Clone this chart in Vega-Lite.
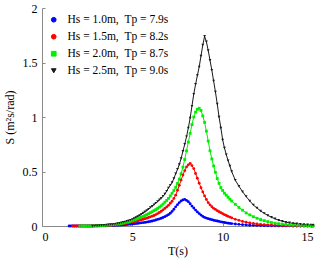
{
  "$schema": "https://vega.github.io/schema/vega-lite/v6.json",
  "width": 271,
  "height": 218,
  "autosize": {"type": "none"},
  "padding": {"left": 42, "top": 8, "right": 7, "bottom": 34},
  "background": "white",
  "config": {
    "view": {"stroke": null},
    "font": "Liberation Serif",
    "axis": {
      "grid": false,
      "domainColor": "#8a8a8a",
      "tickColor": "#8a8a8a",
      "tickSize": -3,
      "labelColor": "#000",
      "titleColor": "#000",
      "labelFont": "Liberation Serif",
      "titleFont": "Liberation Serif",
      "labelFontSize": 12,
      "titleFontSize": 12,
      "titleFontWeight": "normal"
    }
  },
  "data": {
    "values": [
      {"T": 1.5, "a": 0},
      {"T": 1.6, "a": 0},
      {"T": 1.7, "a": 0, "b": 0},
      {"T": 1.8, "a": 0, "b": 0},
      {"T": 1.9, "a": 0, "b": 0},
      {"T": 2.0, "a": 0, "b": 0},
      {"T": 2.1, "a": 0, "b": 0, "c": 0},
      {"T": 2.2, "a": 0, "b": 0, "c": 0},
      {"T": 2.3, "a": 0, "b": 0, "c": 0},
      {"T": 2.4, "a": 0, "b": 0, "c": 0},
      {"T": 2.5, "a": 0, "b": 0, "c": 0},
      {"T": 2.6, "a": 0, "b": 0, "c": 0},
      {"T": 2.7, "a": 0, "b": 0, "c": 0},
      {"T": 2.8, "a": 0, "b": 0, "c": 0, "d": 0},
      {"T": 2.9, "a": 0.001, "b": 0.001, "c": 0.001, "d": 0.001},
      {"T": 3.0, "a": 0.001, "b": 0.002, "c": 0.002, "d": 0.003},
      {"T": 3.1, "a": 0.001, "b": 0.002, "c": 0.002, "d": 0.003},
      {"T": 3.2, "a": 0.001, "b": 0.003, "c": 0.003, "d": 0.004},
      {"T": 3.3, "a": 0.002, "b": 0.003, "c": 0.004, "d": 0.005},
      {"T": 3.4, "a": 0.002, "b": 0.004, "c": 0.005, "d": 0.006},
      {"T": 3.5, "a": 0.002, "b": 0.004, "c": 0.006, "d": 0.007},
      {"T": 3.6, "a": 0.003, "b": 0.005, "c": 0.007, "d": 0.009},
      {"T": 3.7, "a": 0.003, "b": 0.006, "c": 0.008, "d": 0.011},
      {"T": 3.8, "a": 0.004, "b": 0.007, "c": 0.009, "d": 0.013},
      {"T": 3.9, "a": 0.004, "b": 0.008, "c": 0.011, "d": 0.014},
      {"T": 4.0, "a": 0.005, "b": 0.010, "c": 0.013, "d": 0.016},
      {"T": 4.1, "a": 0.006, "b": 0.011, "c": 0.015, "d": 0.019},
      {"T": 4.2, "a": 0.007, "b": 0.013, "c": 0.017, "d": 0.023},
      {"T": 4.3, "a": 0.008, "b": 0.014, "c": 0.019, "d": 0.026},
      {"T": 4.4, "a": 0.009, "b": 0.016, "c": 0.022, "d": 0.030},
      {"T": 4.5, "a": 0.010, "b": 0.018, "c": 0.025, "d": 0.034},
      {"T": 4.6, "a": 0.011, "b": 0.021, "c": 0.029, "d": 0.038},
      {"T": 4.7, "a": 0.013, "b": 0.024, "c": 0.032, "d": 0.043},
      {"T": 4.8, "a": 0.015, "b": 0.028, "c": 0.036, "d": 0.048},
      {"T": 4.9, "a": 0.016, "b": 0.031, "c": 0.041, "d": 0.054},
      {"T": 5.0, "a": 0.018, "b": 0.035, "c": 0.047, "d": 0.061},
      {"T": 5.1, "a": 0.020, "b": 0.039, "c": 0.052, "d": 0.069},
      {"T": 5.2, "a": 0.022, "b": 0.043, "c": 0.058, "d": 0.078},
      {"T": 5.3, "a": 0.024, "b": 0.047, "c": 0.065, "d": 0.087},
      {"T": 5.4, "a": 0.027, "b": 0.052, "c": 0.073, "d": 0.096},
      {"T": 5.5, "a": 0.029, "b": 0.057, "c": 0.080, "d": 0.107},
      {"T": 5.6, "a": 0.031, "b": 0.062, "c": 0.088, "d": 0.119},
      {"T": 5.7, "a": 0.033, "b": 0.067, "c": 0.096, "d": 0.130},
      {"T": 5.8, "a": 0.036, "b": 0.072, "c": 0.105, "d": 0.142},
      {"T": 5.9, "a": 0.039, "b": 0.078, "c": 0.113, "d": 0.155},
      {"T": 6.0, "a": 0.042, "b": 0.084, "c": 0.122, "d": 0.169},
      {"T": 6.1, "a": 0.046, "b": 0.090, "c": 0.131, "d": 0.182},
      {"T": 6.2, "a": 0.050, "b": 0.096, "c": 0.141, "d": 0.196},
      {"T": 6.3, "a": 0.055, "b": 0.105, "c": 0.151, "d": 0.210},
      {"T": 6.4, "a": 0.060, "b": 0.114, "c": 0.161, "d": 0.225},
      {"T": 6.5, "a": 0.065, "b": 0.124, "c": 0.173, "d": 0.240},
      {"T": 6.6, "a": 0.071, "b": 0.135, "c": 0.185, "d": 0.255},
      {"T": 6.7, "a": 0.078, "b": 0.148, "c": 0.201, "d": 0.274},
      {"T": 6.8, "a": 0.086, "b": 0.161, "c": 0.218, "d": 0.293},
      {"T": 6.9, "a": 0.095, "b": 0.175, "c": 0.235, "d": 0.320},
      {"T": 7.0, "a": 0.104, "b": 0.190, "c": 0.253, "d": 0.350},
      {"T": 7.1, "a": 0.117, "b": 0.209, "c": 0.276, "d": 0.375},
      {"T": 7.2, "a": 0.134, "b": 0.227, "c": 0.300, "d": 0.400},
      {"T": 7.3, "a": 0.154, "b": 0.253, "c": 0.325, "d": 0.435},
      {"T": 7.4, "a": 0.176, "b": 0.283, "c": 0.355, "d": 0.480},
      {"T": 7.5, "a": 0.196, "b": 0.328, "c": 0.390, "d": 0.520},
      {"T": 7.6, "a": 0.215, "b": 0.373, "c": 0.430, "d": 0.565},
      {"T": 7.7, "a": 0.230, "b": 0.421, "c": 0.480, "d": 0.620},
      {"T": 7.8, "a": 0.239, "b": 0.467, "c": 0.540, "d": 0.685},
      {"T": 7.9, "a": 0.245, "b": 0.508, "c": 0.610, "d": 0.750},
      {"T": 8.0, "a": 0.235, "b": 0.542, "c": 0.690, "d": 0.820},
      {"T": 8.1, "a": 0.223, "b": 0.561, "c": 0.770, "d": 0.900},
      {"T": 8.2, "a": 0.204, "b": 0.575, "c": 0.850, "d": 0.990},
      {"T": 8.3, "a": 0.183, "b": 0.554, "c": 0.930, "d": 1.100},
      {"T": 8.4, "a": 0.165, "b": 0.527, "c": 1.000, "d": 1.210},
      {"T": 8.5, "a": 0.146, "b": 0.482, "c": 1.045, "d": 1.300},
      {"T": 8.6, "a": 0.129, "b": 0.438, "c": 1.070, "d": 1.380},
      {"T": 8.7, "a": 0.114, "b": 0.393, "c": 1.080, "d": 1.460},
      {"T": 8.8, "a": 0.100, "b": 0.352, "c": 1.060, "d": 1.560},
      {"T": 8.9, "a": 0.088, "b": 0.313, "c": 1.010, "d": 1.660},
      {"T": 9.0, "a": 0.079, "b": 0.276, "c": 0.950, "d": 1.740},
      {"T": 9.1, "a": 0.073, "b": 0.244, "c": 0.870, "d": 1.690},
      {"T": 9.2, "a": 0.067, "b": 0.215, "c": 0.780, "d": 1.610},
      {"T": 9.3, "a": 0.062, "b": 0.194, "c": 0.690, "d": 1.520},
      {"T": 9.4, "a": 0.058, "b": 0.177, "c": 0.615, "d": 1.430},
      {"T": 9.5, "a": 0.053, "b": 0.162, "c": 0.551, "d": 1.330},
      {"T": 9.6, "a": 0.049, "b": 0.152, "c": 0.493, "d": 1.230},
      {"T": 9.7, "a": 0.046, "b": 0.141, "c": 0.435, "d": 1.120},
      {"T": 9.8, "a": 0.042, "b": 0.131, "c": 0.391, "d": 1.000},
      {"T": 9.9, "a": 0.038, "b": 0.122, "c": 0.352, "d": 0.900},
      {"T": 10.0, "a": 0.035, "b": 0.113, "c": 0.326, "d": 0.790},
      {"T": 10.1, "a": 0.032, "b": 0.104, "c": 0.301, "d": 0.715},
      {"T": 10.2, "a": 0.029, "b": 0.096, "c": 0.283, "d": 0.655},
      {"T": 10.3, "a": 0.026, "b": 0.089, "c": 0.264, "d": 0.600},
      {"T": 10.4, "a": 0.024, "b": 0.082, "c": 0.246, "d": 0.550},
      {"T": 10.5, "a": 0.022, "b": 0.075, "c": 0.229, "d": 0.500},
      {"T": 10.7, "a": 0.018, "b": 0.061, "c": 0.199, "d": 0.420},
      {"T": 10.9, "a": 0.015, "b": 0.052, "c": 0.170, "d": 0.365},
      {"T": 11.1, "a": 0.012, "b": 0.042, "c": 0.145, "d": 0.315},
      {"T": 11.3, "a": 0.010, "b": 0.035, "c": 0.120, "d": 0.270},
      {"T": 11.5, "a": 0.007, "b": 0.028, "c": 0.102, "d": 0.230},
      {"T": 11.7, "a": 0.006, "b": 0.023, "c": 0.085, "d": 0.192},
      {"T": 11.9, "a": 0.005, "b": 0.018, "c": 0.071, "d": 0.165},
      {"T": 12.1, "a": 0.004, "b": 0.015, "c": 0.059, "d": 0.138},
      {"T": 12.3, "a": 0.003, "b": 0.012, "c": 0.049, "d": 0.116},
      {"T": 12.5, "a": 0.002, "b": 0.010, "c": 0.040, "d": 0.097},
      {"T": 12.7, "a": 0.002, "b": 0.008, "c": 0.032, "d": 0.080},
      {"T": 12.9, "a": 0.002, "b": 0.006, "c": 0.026, "d": 0.066},
      {"T": 13.1, "a": 0.001, "b": 0.005, "c": 0.021, "d": 0.053},
      {"T": 13.3, "a": 0.001, "b": 0.004, "c": 0.017, "d": 0.044},
      {"T": 13.5, "a": 0.001, "b": 0.003, "c": 0.014, "d": 0.035},
      {"T": 13.7, "a": 0.001, "b": 0.003, "c": 0.011, "d": 0.029},
      {"T": 13.9, "a": 0, "b": 0.002, "c": 0.009, "d": 0.024},
      {"T": 14.1, "a": 0, "b": 0.001, "c": 0.008, "d": 0.020},
      {"T": 14.3, "a": 0, "b": 0.001, "c": 0.006, "d": 0.016},
      {"T": 14.5, "a": 0, "b": 0.001, "c": 0.005, "d": 0.013},
      {"T": 14.7, "a": 0, "b": 0.001, "c": 0.004, "d": 0.011},
      {"T": 14.9, "a": 0, "b": 0, "c": 0.003, "d": 0.009},
      {"T": 15.0, "a": 0, "b": 0, "c": 0.003, "d": 0.008}
    ]
  },
  "transform": [
    {"fold": ["a", "b", "c", "d"], "as": ["k", "S"]},
    {"filter": {"field": "S", "valid": true}}
  ],
  "encoding": {
    "x": {
      "field": "T", "type": "quantitative",
      "scale": {"domain": [0, 15], "nice": false},
      "axis": {"values": [0, 5, 10, 15], "format": "~g", "title": "T(s)", "labelPadding": 8, "titlePadding": 3}
    },
    "y": {
      "field": "S", "type": "quantitative",
      "scale": {"domain": [0, 2], "nice": false},
      "axis": {"values": [0, 0.5, 1, 1.5, 2], "format": "~g", "title": "S (m²s/rad)", "labelPadding": 8, "titlePadding": 6}
    },
    "color": {
      "field": "k", "type": "nominal",
      "scale": {"domain": ["a", "b", "c", "d"], "range": ["#0000ff", "#ff0000", "#00ee00", "#1a1a1a"]},
      "legend": {
        "title": null, "orient": "top-left", "offset": 6, "padding": 0,
        "labelFont": "Liberation Serif", "labelFontSize": 11.5, "labelColor": "#000",
        "symbolSize": 22, "symbolStrokeWidth": 1, "rowPadding": 4, "labelOffset": 8,
        "labelExpr": "datum.label == 'a' ? 'Hs = 1.0m,\u00a0\u00a0Tp = 7.9s' : datum.label == 'b' ? 'Hs = 1.5m,\u00a0\u00a0Tp = 8.2s' : datum.label == 'c' ? 'Hs = 2.0m,\u00a0\u00a0Tp = 8.7s' : 'Hs = 2.5m,\u00a0\u00a0Tp = 9.0s'"
      }
    }
  },
  "layer": [
    {
      "mark": {"type": "line", "strokeWidth": 1, "interpolate": "linear"},
      "encoding": {
        "order": {"field": "T", "type": "quantitative"}
      }
    },
    {
      "mark": {"type": "point", "filled": true, "size": 8, "opacity": 1},
      "encoding": {
        "shape": {
          "field": "k", "type": "nominal",
          "scale": {"domain": ["a", "b", "c", "d"], "range": ["circle", "circle", "square", "triangle-down"]},
          "legend": {
            "title": null, "orient": "top-left", "offset": 6, "padding": 0,
            "labelFont": "Liberation Serif", "labelFontSize": 11.5, "labelColor": "#000",
            "symbolSize": 22, "symbolStrokeWidth": 1, "rowPadding": 4, "labelOffset": 8,
            "labelExpr": "datum.label == 'a' ? 'Hs = 1.0m,\u00a0\u00a0Tp = 7.9s' : datum.label == 'b' ? 'Hs = 1.5m,\u00a0\u00a0Tp = 8.2s' : datum.label == 'c' ? 'Hs = 2.0m,\u00a0\u00a0Tp = 8.7s' : 'Hs = 2.5m,\u00a0\u00a0Tp = 9.0s'"
          }
        }
      }
    }
  ]
}
